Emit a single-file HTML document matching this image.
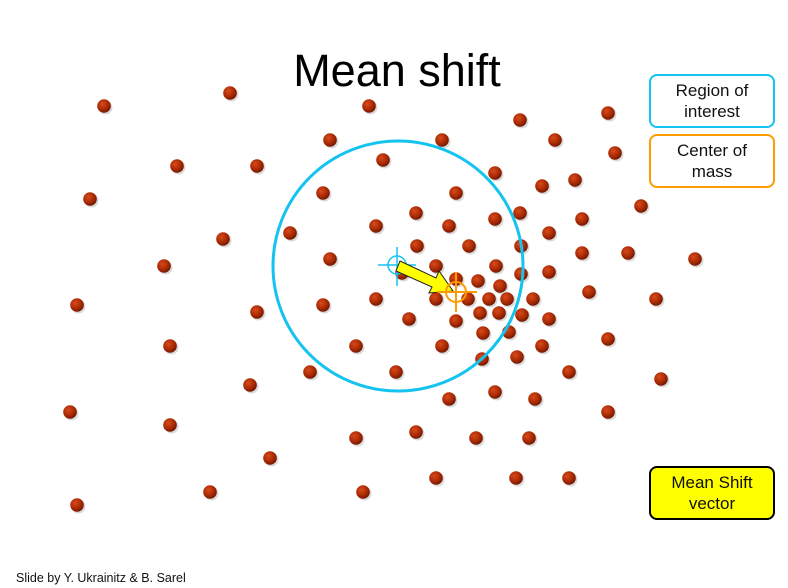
<!DOCTYPE html>
<html><head><meta charset="utf-8"><style>
body{margin:0;background:#fff;width:788px;height:588px;overflow:hidden;font-family:"Liberation Sans",sans-serif;}
svg{position:absolute;left:0;top:0}
.box{position:absolute;left:649px;width:122px;height:50px;border-radius:8px;border:2px solid;display:flex;align-items:center;justify-content:center;text-align:center;font-size:17px;line-height:21px;color:#111;}
</style></head><body>
<svg width="788" height="588">
<defs>
<radialGradient id="dg" cx="0.38" cy="0.35" r="0.7">
<stop offset="0" stop-color="#d84a1a"/><stop offset="0.6" stop-color="#a82a05"/><stop offset="1" stop-color="#6a1500"/>
</radialGradient>
</defs>
<text x="397" y="86" text-anchor="middle" font-size="45" font-family="Liberation Sans, sans-serif" fill="#000">Mean shift</text>
<g id="dots"></g>
<circle cx="398" cy="266" r="125" fill="none" stroke="#14c3f0" stroke-width="3"/>
<g stroke="#14c3f0" stroke-width="1.5" fill="none">
<circle cx="397" cy="265" r="9"/><line x1="378" y1="265" x2="416" y2="265"/><line x1="397" y1="247" x2="397" y2="286"/></g>
<polygon points="400,261 436,278 439,271 453,291 429,293 432,287 396,271" fill="#ffff00" stroke="#222" stroke-width="1"/>
<g stroke="#ff9a00" stroke-width="2" fill="none">
<circle cx="456" cy="292" r="10"/><line x1="437" y1="292" x2="477" y2="292"/><line x1="456" y1="272" x2="456" y2="312"/></g>
<text x="16" y="582" font-size="12.5" fill="#111" font-family="Liberation Sans, sans-serif">Slide by Y. Ukrainitz &amp; B. Sarel</text>
</svg>
<div class="box" style="top:74px;border-color:#14c3f0;background:#fff">Region of<br>interest</div>
<div class="box" style="top:134px;border-color:#ff9a00;background:#fff">Center of<br>mass</div>
<div class="box" style="top:466px;border-color:#000;background:#ffff00">Mean Shift<br>vector</div>
<script>
const xs=[104,230,369,520,608,330,442,555,615,177,257,383,495,575,542,90,323,456,641,416,376,449,495,520,582,223,290,549,417,469,521,582,628,695,164,330,436,496,549,521,402,456,478,500,376,436,468,489,507,533,409,456,480,499,522,483,509,589,656,77,257,323,549,608,170,356,442,542,482,517,310,396,569,661,250,495,449,535,70,608,170,356,416,476,529,270,436,516,569,210,363,77];
const ys=[106,93,106,120,113,140,140,140,153,166,166,160,173,180,186,199,193,193,206,213,226,226,219,213,219,239,233,233,246,246,246,253,253,259,266,259,266,266,272,274,273,279,281,286,299,299,299,299,299,299,319,321,313,313,315,333,332,292,299,305,312,305,319,339,346,346,346,346,359,357,372,372,372,379,385,392,399,399,412,412,425,438,432,438,438,458,478,478,478,492,492,505];
const g=document.getElementById('dots');
const NS='http://www.w3.org/2000/svg';
for(let i=0;i<xs.length;i++){
  const s=document.createElementNS(NS,'circle');
  s.setAttribute('cx',xs[i]+1.5);s.setAttribute('cy',ys[i]+1.5);s.setAttribute('r',7);s.setAttribute('fill','rgba(0,0,0,0.15)');
  g.appendChild(s);
  const c=document.createElementNS(NS,'circle');
  c.setAttribute('cx',xs[i]);c.setAttribute('cy',ys[i]);c.setAttribute('r',6.8);c.setAttribute('fill','url(#dg)');
  
  
  g.appendChild(c);
}
</script>
</body></html>
